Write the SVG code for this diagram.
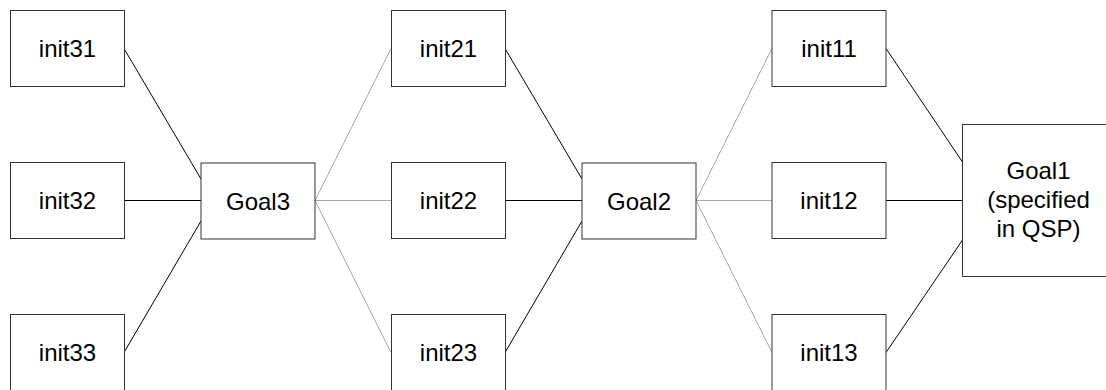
<svg xmlns="http://www.w3.org/2000/svg" width="1106" height="390" viewBox="0 0 1106 390">
<style>
.box{fill:#fff;stroke:#333;stroke-width:1}
.t{font-family:"Liberation Sans",Arial,sans-serif;font-size:24px;fill:#000;text-anchor:middle}
.dk{stroke:#000;stroke-width:1;fill:none}
.lt{stroke:#aaa;stroke-width:1;fill:none}
</style>
<rect width="1106" height="390" fill="#fff"/>
<g id="connectors">
<line class="dk" x1="124" y1="48.5" x2="201" y2="179"/>
<line class="dk" x1="124" y1="200.5" x2="201" y2="200.5"/>
<line class="dk" x1="124" y1="352.5" x2="201" y2="221"/>
<line class="lt" x1="315" y1="200.5" x2="391" y2="48.5"/>
<line class="lt" x1="315" y1="200.5" x2="391" y2="200.5"/>
<line class="lt" x1="315" y1="200.5" x2="391" y2="352.5"/>
<line class="dk" x1="505" y1="48.5" x2="582" y2="179"/>
<line class="dk" x1="505" y1="200.5" x2="582" y2="200.5"/>
<line class="dk" x1="505" y1="352.5" x2="582" y2="221"/>
<line class="lt" x1="696" y1="200.5" x2="772" y2="48.5"/>
<line class="lt" x1="696" y1="200.5" x2="772" y2="200.5"/>
<line class="lt" x1="696" y1="200.5" x2="772" y2="352.5"/>
<line class="dk" x1="886" y1="48.5" x2="962.5" y2="162"/>
<line class="dk" x1="886" y1="200.5" x2="962.5" y2="200.5"/>
<line class="dk" x1="886" y1="352.5" x2="962.5" y2="240"/>
</g>
<g id="init31"><rect class="box" x="10.5" y="10.5" width="114" height="76"/><text class="t" x="67.5" y="57">init31</text></g>
<g id="init32"><rect class="box" x="10.5" y="162.5" width="114" height="76"/><text class="t" x="67.5" y="209">init32</text></g>
<g id="init33"><rect class="box" x="10.5" y="314.5" width="114" height="76"/><text class="t" x="67.5" y="361">init33</text></g>
<g id="goal3"><rect class="box" x="201" y="163" width="114" height="76"/><text class="t" x="258" y="209.5">Goal3</text></g>
<g id="init21"><rect class="box" x="391.5" y="10.5" width="114" height="76"/><text class="t" x="448.5" y="57">init21</text></g>
<g id="init22"><rect class="box" x="391.5" y="162.5" width="114" height="76"/><text class="t" x="448.5" y="209">init22</text></g>
<g id="init23"><rect class="box" x="391.5" y="314.5" width="114" height="76"/><text class="t" x="448.5" y="361">init23</text></g>
<g id="goal2"><rect class="box" x="582" y="163" width="114" height="76"/><text class="t" x="639" y="209.5">Goal2</text></g>
<g id="init11"><rect class="box" x="772" y="10.5" width="114" height="76"/><text class="t" x="829" y="57">init11</text></g>
<g id="init12"><rect class="box" x="772" y="162.5" width="114" height="76"/><text class="t" x="829" y="209">init12</text></g>
<g id="init13"><rect class="box" x="772" y="314.5" width="114" height="76"/><text class="t" x="829" y="361">init13</text></g>
<g id="goal1"><rect class="box" x="962.5" y="124.5" width="152" height="152"/><text class="t" x="1038.5" y="179">Goal1</text><text class="t" x="1038.5" y="208">(specified</text><text class="t" x="1038.5" y="237">in QSP)</text></g>
</svg>
